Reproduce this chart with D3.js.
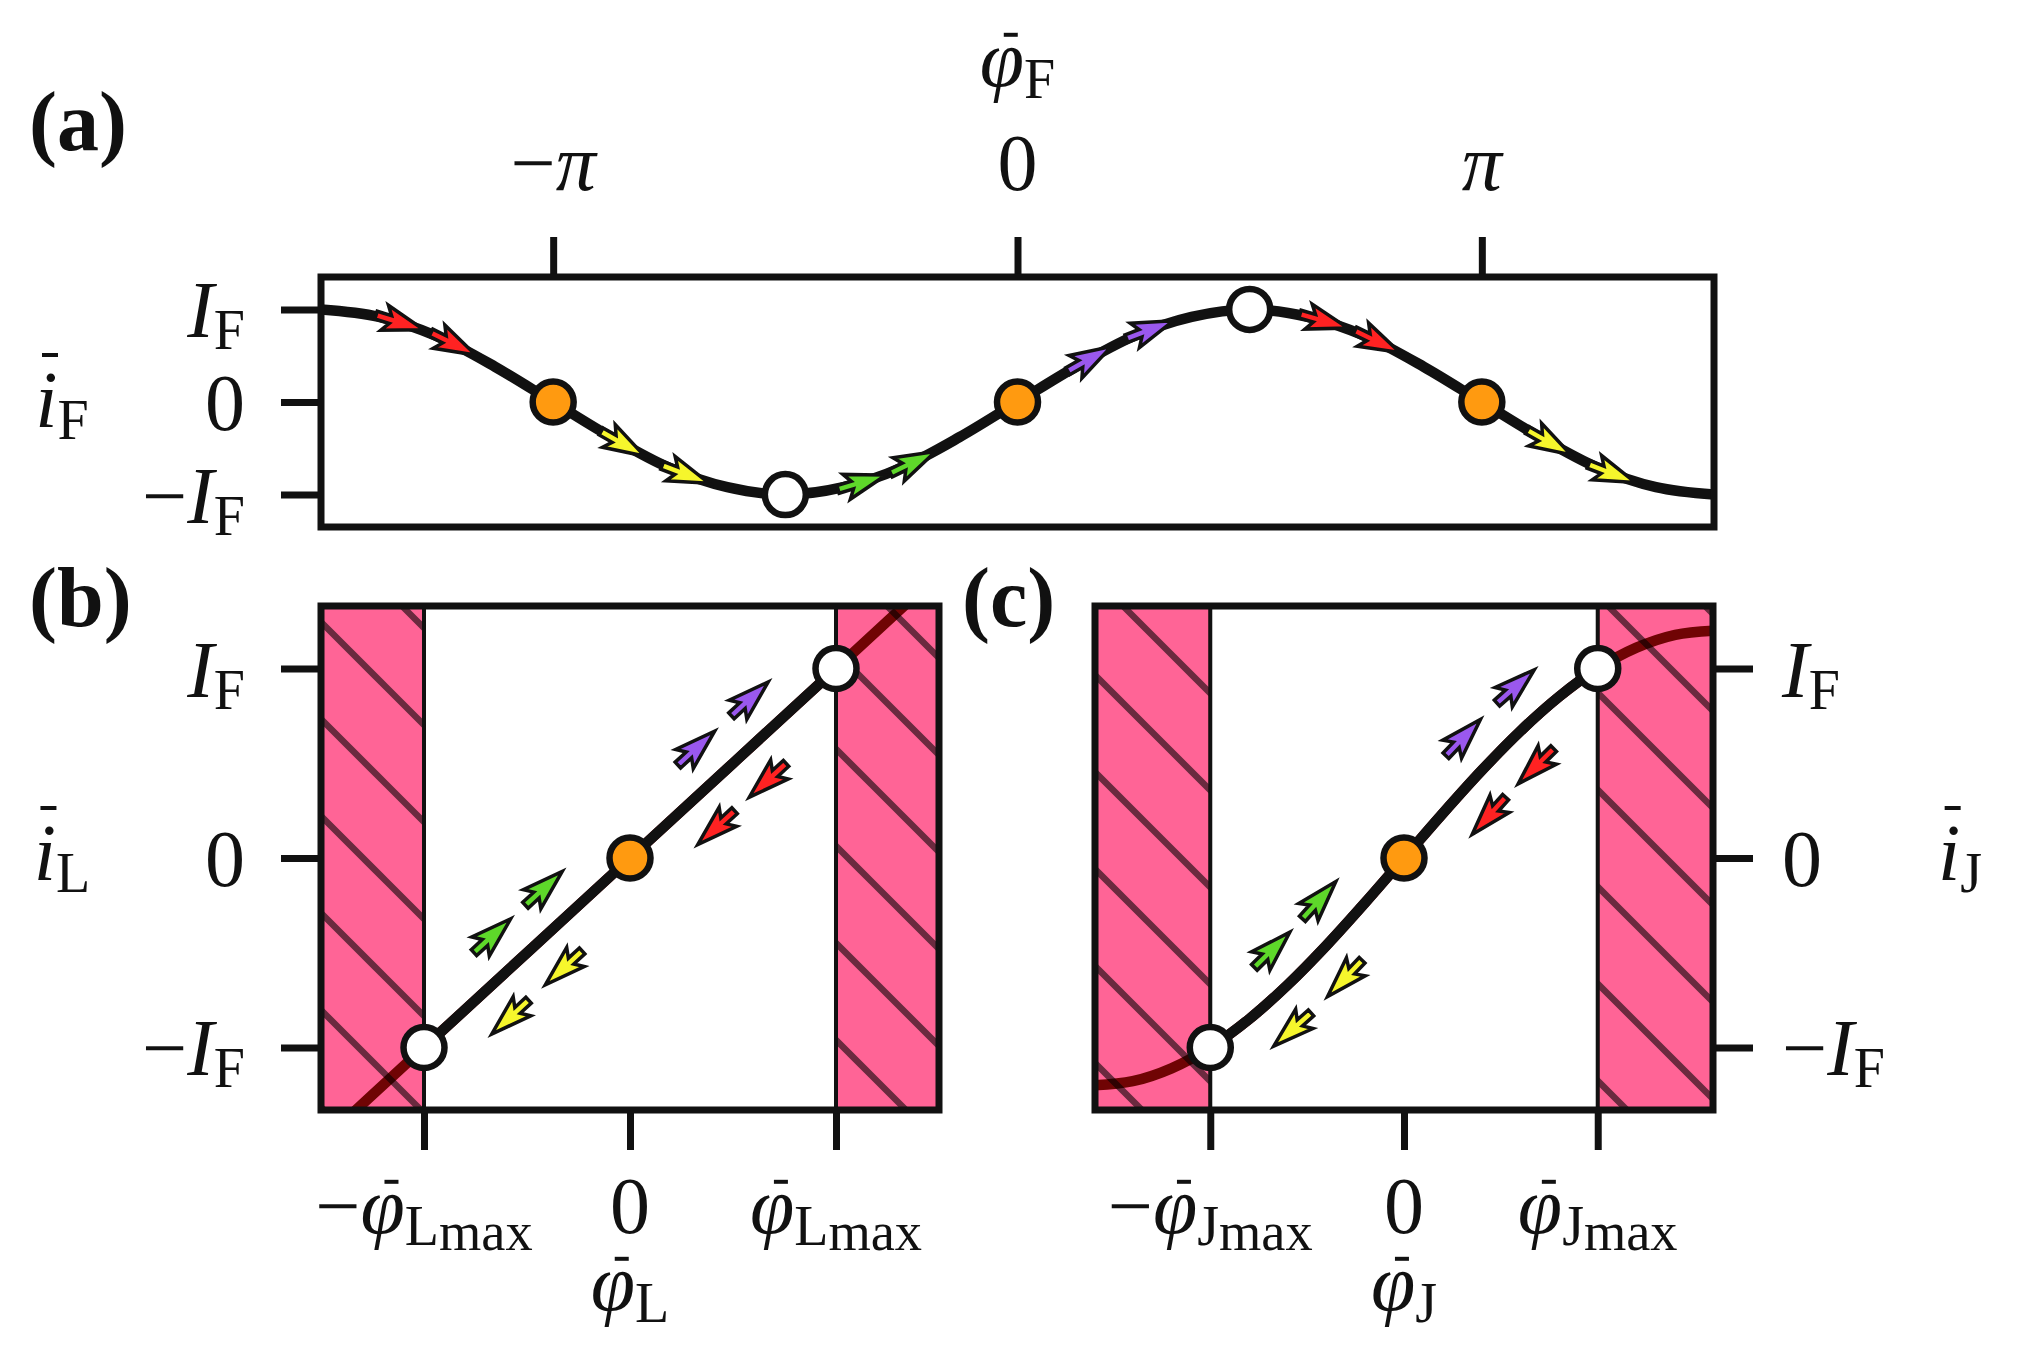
<!DOCTYPE html>
<html>
<head>
<meta charset="utf-8">
<script src="https://cdn.jsdelivr.net/npm/d3@7"></script>
<style>
  body { margin: 0; background: #fff; }
  svg { display: block; }
  text { font-family: 'Liberation Serif', 'Times New Roman', serif; fill: #111; }
</style>
</head>
<body>
<svg id="chart" width="2025" height="1350"></svg>
<script>
// ---- data ----
// panel (a): phase in units of pi, current in units of I_F
const phiF = [-1.5, -1.375, -1.25, -1.125, -1, -0.875, -0.75, -0.625, -0.5, -0.375, -0.25, -0.125, 0,
              0.125, 0.25, 0.375, 0.5, 0.625, 0.75, 0.875, 1, 1.125, 1.25, 1.375, 1.5];
const iF = [1, 0.92, 0.71, 0.38, 0, -0.38, -0.71, -0.92, -1, -0.92, -0.71, -0.38, 0,
            0.38, 0.71, 0.92, 1, 0.92, 0.71, 0.38, 0, -0.38, -0.71, -0.92, -1];
const dotsF = [[-1, 0, 'orange'], [-0.5, -1, 'white'], [0, 0, 'orange'], [0.5, 1, 'white'], [1, 0, 'orange']];
const arrowPhiF = [-1.33, -1.215, -0.85, -0.715, -0.335, -0.225, 0.155, 0.285, 0.66, 0.775, 1.145, 1.28];
const arrowColF = ['red', 'red', 'yellow', 'yellow', 'green', 'green', 'purple', 'purple', 'red', 'red', 'yellow', 'yellow'];

// panel (b): phase in units of phi_Lmax
const phiL = [-1.5, -1, 0, 1, 1.5];
const iL = [-1.5, -1, 0, 1, 1.5];
const bandsL = [[-1.5, -1], [1, 1.5]];

// panel (c): phase in units of phi_Jmax
const phiJ = [-1.595, -1.4, -1.2, -1, -0.8, -0.6, -0.4, -0.2, 0, 0.2, 0.4, 0.6, 0.8, 1, 1.2, 1.4, 1.595];
const iJ = [-1.2, -1.178, -1.11, -1, -0.851, -0.669, -0.461, -0.235, 0, 0.235, 0.461, 0.669, 0.851, 1, 1.11, 1.178, 1.2];
const bandsJ = [[-1.595, -1], [1, 1.595]];

// (b) and (c) share markers and arrow layout
const dotsLJ = [[-1, -1, 'white'], [0, 0, 'orange'], [1, 1, 'white']];
const arrowPhiLJ = [-0.55, -0.30, 0.44, 0.70, 0.55, 0.30, -0.44, -0.70];
const arrowDirLJ = [1, 1, 1, 1, -1, -1, -1, -1];
const arrowColLJ = ['green', 'green', 'purple', 'purple', 'red', 'red', 'yellow', 'yellow'];

// tick labels (math parts)
const IF = [{s: 'I', it: true}, {s: 'F', sub: 1}];
const mIF = [{s: '\u2212'}, ...IF];
const zero = [{s: '0'}];
const yTicks = [1, 0, -1];
const yTickLabels = [IF, zero, mIF];
const xTicksF = [-1, 0, 1];
const xTickLabelsF = [[{s: '\u2212'}, {s: '\u03c0', it: true}], zero, [{s: '\u03c0', it: true}]];
const xTicksLJ = [-1, 0, 1];
const phiMax = k => [{s: '\u03c6', it: true, bar: true}, {s: k, sub: 1}, {s: 'max', sub: 2}];
const xTickLabelsL = [[{s: '\u2212'}, ...phiMax('L')], zero, phiMax('L')];
const xTickLabelsJ = [[{s: '\u2212'}, ...phiMax('J')], zero, phiMax('J')];

const colors = {red: '#ff2222', yellow: '#f6f62c', green: '#5ed82a', purple: '#9a58ee',
                orange: '#ff9a10', white: '#ffffff'};
const pink = '#ff6496';

// ---- setup ----
const svg = d3.select('#chart');
const defs = svg.append('defs');
const ink = '#111';

function hatch(id, c) {
    const p = defs.append('pattern')
        .attr('id', id)
        .attr('patternUnits', 'userSpaceOnUse')
        .attr('width', 97)
        .attr('height', 97);
    p.append('path')
        .attr('d', [-1, 0, 1].map(k => `M-10,${c + 97 * k - 10}L107,${c + 97 * k + 107}`).join(''))
        .attr('stroke', '#000')
        .attr('stroke-opacity', 0.58)
        .attr('stroke-width', 6.5)
        .attr('fill', 'none');
}
hatch('hatchL', 10);
hatch('hatchJ', 65);

function clipRect(id, x0, y0, x1, y1) {
    defs.append('clipPath').attr('id', id)
        .append('rect').attr('x', x0).attr('y', y0).attr('width', x1 - x0).attr('height', y1 - y0);
}

// math text with italic, subscripts and bars
function mathLabel(sel, x, y, parts, anchor, size = 80) {
    const offs = [0, 0.15, 0.21], sizes = [1, 0.7, 0.68];
    const t = sel.append('text')
        .attr('x', x)
        .attr('y', y)
        .attr('text-anchor', anchor)
        .style('font-size', size + 'px');
    let cur = 0;
    parts.forEach(p => {
        const lv = p.sub || 0;
        const ts = t.append('tspan')
            .attr('dy', (offs[lv] - cur) * size)
            .style('font-size', size * sizes[lv] + 'px')
            .text(p.s);
        if (p.it) ts.style('font-style', 'italic');
        cur = offs[lv];
    });
    let idx = 0;
    parts.forEach(p => {
        if (p.bar) {
            const e = t.node().getExtentOfChar(idx);
            const lv = p.sub || 0;
            const fs = size * sizes[lv];
            const isI = p.s === 'i';
            const cx = e.x + e.width * (isI ? 0.66 : 0.7);
            const by = y + offs[lv] * size - (isI ? 0.9 : 0.64) * fs;
            const hw = isI ? 8 : 7;
            sel.append('line')
                .attr('x1', cx - hw).attr('x2', cx + hw)
                .attr('y1', by).attr('y2', by)
                .attr('stroke', ink)
                .attr('stroke-width', 4);
        }
        idx += p.s.length;
    });
    return t;
}

// point on a drawn path at a given pixel x, with unit tangent
function pointAtX(node, px) {
    const L = node.getTotalLength();
    let lo = 0, hi = L;
    for (let k = 0; k < 40; k++) {
        const mid = (lo + hi) / 2;
        if (node.getPointAtLength(mid).x < px) lo = mid; else hi = mid;
    }
    const len = (lo + hi) / 2;
    const p = node.getPointAtLength(len);
    const a = node.getPointAtLength(Math.max(0, len - 2));
    const b = node.getPointAtLength(Math.min(L, len + 2));
    const n = Math.hypot(b.x - a.x, b.y - a.y);
    return {x: p.x, y: p.y, dx: (b.x - a.x) / n, dy: (b.y - a.y) / n};
}

const arrowShape = [[-25, -4], [-10, -4], [-16, -13], [25, 0], [-16, 13], [-10, 4], [-25, 4]];

function drawArrows(g, pathNode, x, phis, dirs, cols, offset) {
    phis.forEach((ph, i) => {
        const q = pointAtX(pathNode, x(ph));
        const s = dirs ? dirs[i] : 1;
        const dx = q.dx * s, dy = q.dy * s;
        const cx = q.x + dy * offset, cy = q.y - dx * offset;
        const ang = Math.atan2(dy, dx) * 180 / Math.PI;
        g.append('polygon')
            .attr('points', arrowShape.map(p => p.join(',')).join(' '))
            .attr('transform', `translate(${cx},${cy}) rotate(${ang})`)
            .attr('fill', colors[cols[i]])
            .attr('stroke', ink)
            .attr('stroke-width', 3.5)
            .attr('stroke-linejoin', 'miter');
    });
}

function drawDots(g, x, y, dots) {
    g.selectAll(null)
        .data(dots)
        .enter()
        .append('circle')
        .attr('cx', d => x(d[0]))
        .attr('cy', d => y(d[1]))
        .attr('r', 20.5)
        .attr('fill', d => colors[d[2]])
        .attr('stroke', ink)
        .attr('stroke-width', 6.5);
}

function styleAxis(g) {
    g.select('.domain').remove();
    g.selectAll('.tick line').attr('stroke', ink).attr('stroke-width', 7);
    g.selectAll('.tick text').remove();
}

function spine(g, x, y) {
    const [x0, x1] = x.range(), [y1, y0] = y.range();
    g.append('rect')
        .attr('x', x0).attr('y', y0)
        .attr('width', x1 - x0).attr('height', y1 - y0)
        .attr('fill', 'none')
        .attr('stroke', ink)
        .attr('stroke-width', 7);
}

// ---- panel (a) ----
const xA = d3.scaleLinear().domain([-1.5, 1.5]).range([321, 1714]);
const yA = d3.scaleLinear().domain([-1.35, 1.35]).range([527, 277]);
const gA = svg.append('g');
clipRect('clipA', 321, 277, 1714, 527);

const lineA = d3.line().x((d, i) => xA(phiF[i])).y(d => yA(d)).curve(d3.curveMonotoneX);
const pathA = gA.append('path')
    .datum(iF)
    .attr('d', lineA)
    .attr('clip-path', 'url(#clipA)')
    .attr('fill', 'none')
    .attr('stroke', ink)
    .attr('stroke-width', 10.5);

drawArrows(gA, pathA.node(), xA, arrowPhiF, null, arrowColF, 0);
drawDots(gA, xA, yA, dotsF);

gA.append('g').call(d3.axisTop(xA).tickValues(xTicksF).tickSize(40).tickFormat(''))
    .attr('transform', 'translate(0,277)').call(styleAxis);
gA.append('g').call(d3.axisLeft(yA).tickValues(yTicks).tickSize(40).tickFormat(''))
    .attr('transform', 'translate(321,0)').call(styleAxis);
spine(gA, xA, yA);

xTicksF.forEach((v, i) => mathLabel(gA, xA(v), 190, xTickLabelsF[i], 'middle'));
yTicks.forEach((v, i) => mathLabel(gA, 245, yA(v) + 28, yTickLabels[i], 'end'));
mathLabel(gA, xA(0), 86, [{s: '\u03c6', it: true, bar: true}, {s: 'F', sub: 1}], 'middle');
mathLabel(gA, 62, 427, [{s: 'i', it: true, bar: true}, {s: 'F', sub: 1}], 'middle');

// ---- panels (b) and (c) ----
function sidePanel(id, x, y, phis, vals, bands, ticksLabels, axisSub, yRight, axisLabelX) {
    const g = svg.append('g');
    const [x0, x1] = x.range(), [y1, y0] = y.range();
    clipRect('clip' + id, x0, y0, x1, y1);
    clipRect('clipMid' + id, x(-1), y0, x(1), y1);

    // forbidden zones
    g.selectAll(null).data(bands).enter().append('rect')
        .attr('x', d => x(d[0])).attr('y', y0)
        .attr('width', d => x(d[1]) - x(d[0])).attr('height', y1 - y0)
        .attr('fill', pink);

    const line = d3.line().x((d, i) => x(phis[i])).y(d => y(d)).curve(d3.curveMonotoneX);
    const path = g.append('path')
        .datum(vals)
        .attr('d', line)
        .attr('clip-path', `url(#clip${id})`)
        .attr('fill', 'none')
        .attr('stroke', '#700404')
        .attr('stroke-width', 10.5);

    g.selectAll(null).data(bands).enter().append('rect')
        .attr('x', d => x(d[0])).attr('y', y0)
        .attr('width', d => x(d[1]) - x(d[0])).attr('height', y1 - y0)
        .attr('fill', `url(#hatch${id})`)
        .attr('stroke', '#8b0a0a')
        .attr('stroke-width', 3);

    g.append('path')
        .datum(vals)
        .attr('d', line)
        .attr('clip-path', `url(#clipMid${id})`)
        .attr('fill', 'none')
        .attr('stroke', ink)
        .attr('stroke-width', 10.5);

    [-1, 1].forEach(v => g.append('line')
        .attr('x1', x(v)).attr('x2', x(v))
        .attr('y1', y0).attr('y2', y1)
        .attr('stroke', ink)
        .attr('stroke-width', 4));

    drawArrows(g, path.node(), x, arrowPhiLJ, arrowDirLJ, arrowColLJ, 36);
    drawDots(g, x, y, dotsLJ);

    g.append('g').call(d3.axisBottom(x).tickValues(xTicksLJ).tickSize(40).tickFormat(''))
        .attr('transform', `translate(0,${y1})`).call(styleAxis);
    const yAxis = yRight ? d3.axisRight(y) : d3.axisLeft(y);
    g.append('g').call(yAxis.tickValues(yTicks).tickSize(40).tickFormat(''))
        .attr('transform', `translate(${yRight ? x1 : x0},0)`).call(styleAxis);
    spine(g, x, y);

    xTicksLJ.forEach((v, i) => mathLabel(g, x(v), 1233, ticksLabels[i], 'middle'));
    yTicks.forEach((v, i) => mathLabel(g, yRight ? 1782 : 245, y(v) + 28, yTickLabels[i], yRight ? 'start' : 'end'));
    mathLabel(g, x(0), 1310, [{s: '\u03c6', it: true, bar: true}, {s: axisSub, sub: 1}], 'middle');
    mathLabel(g, axisLabelX, 880, [{s: 'i', it: true, bar: true}, {s: axisSub, sub: 1}], 'middle');
}

const yLJ = d3.scaleLinear().domain([-1.33, 1.33]).range([1110, 606]);
const xB = d3.scaleLinear().domain([-1.5, 1.5]).range([321, 939]);
const xC = d3.scaleLinear().domain([-1.595, 1.595]).range([1095, 1713]);
sidePanel('L', xB, yLJ, phiL, iL, bandsL, xTickLabelsL, 'L', false, 62);
sidePanel('J', xC, yLJ, phiJ, iJ, bandsJ, xTickLabelsJ, 'J', true, 1960);

// panel letters
[['(a)', 29, 150], ['(b)', 29, 626], ['(c)', 962, 626]].forEach(d => {
    svg.append('text')
        .attr('x', d[1])
        .attr('y', d[2])
        .style('font-size', '84px')
        .style('font-weight', 'bold')
        .text(d[0]);
});
</script>
</body>
</html>
